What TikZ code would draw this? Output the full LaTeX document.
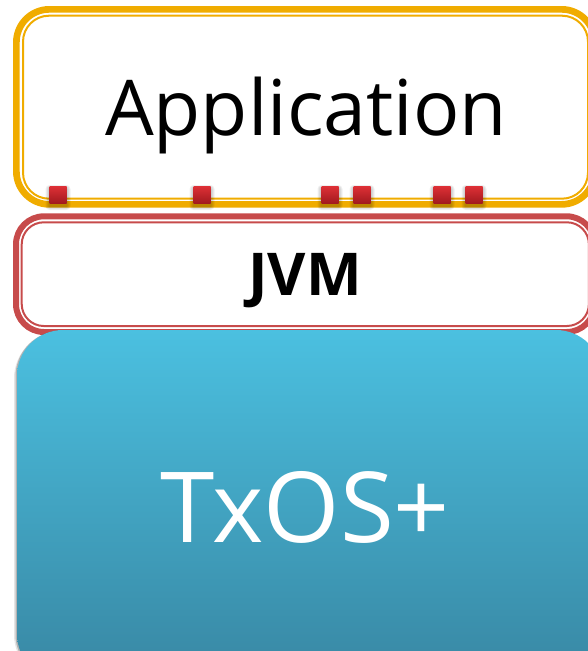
\documentclass[tikz,border=0pt]{standalone}
\usepackage{fontspec}
\setmainfont{Open Sans}
\usetikzlibrary{calc}

\definecolor{appgold}{RGB}{240,172,0}
\definecolor{jvmred}{RGB}{199,75,75}
\definecolor{portred}{RGB}{222,48,54}
\definecolor{portdark}{RGB}{163,26,31}
\definecolor{ostop}{RGB}{75,192,224}
\definecolor{osbot}{RGB}{56,135,163}

\tikzset{
  layerbox/.style={shape=rectangle, inner sep=0pt, outer sep=0pt},
  port/.style={shape=rectangle, inner sep=0pt, minimum size=17pt,
               top color=portred, bottom color=portdark},
  portshade/.style={black, opacity=0.06},
}

\begin{document}
\begin{tikzpicture}[x=1pt,y=-1pt]
\useasboundingbox (0,0) rectangle (588,651);
\clip (0,0) rectangle (588,651);

% Application layer: thick-thin gold frame
\node[layerbox, draw=appgold, line width=6.7pt, rounded corners=33pt,
      minimum width=578.25pt, minimum height=195pt] (app) at (305.5,106.85) {};
\node[layerbox, draw=appgold, line width=2pt, rounded corners=26pt,
      minimum width=565pt, minimum height=183pt] (appinner) at (305.5,107.2) {};
\node[anchor=base, font=\fontsize{77}{80}\selectfont] (applabel) at (306,135) {Application};

% Ports along the bottom edge of the application frame
\foreach \px [count=\i] in {58,202,330,362,442,474} {
  \foreach \k in {1,...,4}
    \fill[portshade, rounded corners=\k pt]
      (\px-8.5-\k, 189-\k) rectangle (\px+8.5+\k, 206+\k);
  \node[port] (port\i) at (\px,194.5) {};
}

% JVM layer: thick-thin red frame
\node[layerbox, draw=jvmred, line width=6pt, rounded corners=28pt,
      minimum width=578.6pt, minimum height=115.7pt] (jvm) at (305.3,274.15) {};
\node[layerbox, draw=jvmred, line width=2pt, rounded corners=22pt,
      minimum width=567.2pt, minimum height=103.7pt] (jvminner) at (305.3,274.15) {};
\node[anchor=base, font=\bfseries\fontsize{59}{62}\selectfont] (jvmlabel) at (305,295) {JVM};

% TxOS+ layer: shaded block with a soft left shadow
\node[layerbox, fill=black, opacity=0.10, rounded corners=47pt,
      minimum width=585pt, minimum height=350pt, xshift=-3pt, yshift=-1.5pt] (osshadow2) at (309.5,505) {};
\node[layerbox, fill=black, opacity=0.22, rounded corners=46pt,
      minimum width=585pt, minimum height=350pt, xshift=-1.5pt, yshift=-0.5pt] (osshadow) at (309.5,505) {};
\node[layerbox, rounded corners=46pt, top color=ostop, bottom color=osbot,
      minimum width=585pt, minimum height=350pt] (os) at (309.5,505) {};
\node[anchor=base, text=white, font=\fontsize{98}{100}\selectfont] (oslabel) at (305,542) {TxOS+};
\end{tikzpicture}
\end{document}
